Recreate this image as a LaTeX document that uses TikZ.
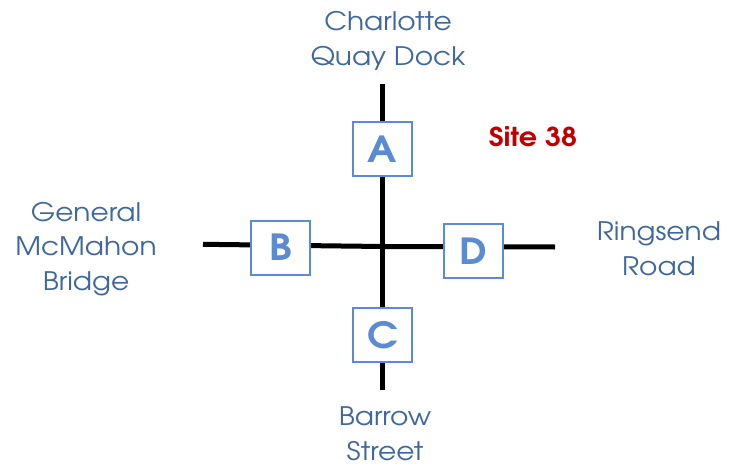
\documentclass[tikz,border=0pt]{standalone}
\usepackage{fontspec}
\setmainfont{texgyreadventor}[Extension=.otf, UprightFont=*-regular, BoldFont=*-bold, FakeStretch=1.1]
\usepackage{xcolor}
\usepackage{tikz}
\usetikzlibrary{positioning}
\definecolor{streetblue}{HTML}{3F679C}
\definecolor{boxblue}{HTML}{5B8BD1}
\definecolor{sitered}{HTML}{C00000}
\tikzset{
  roadline/.style={line width=5pt, black},
  sitebox/.style={draw=boxblue, line width=2pt, fill=white, minimum width=59pt, minimum height=54pt, inner sep=0pt, text=boxblue, font=\fontsize{36}{40}\selectfont\bfseries},
  streetlabel/.style={text=streetblue, align=center, anchor=base, inner sep=0pt, font=\fontsize{25.5}{34.5}\selectfont},
}

\begin{document}
\begin{tikzpicture}[x=1pt, y=-1pt]
  \useasboundingbox (0,0) rectangle (729,471);
  % road ends
  \coordinate (cross) at (382,246.5);
  \coordinate (nend) at (382,84);
  \coordinate (send) at (382,390);
  \coordinate (wend) at (203,244.3);
  \coordinate (eend) at (555,247);
  \draw[roadline] (nend) -- (send);
  \draw[roadline] (wend) -- (cross) -- (eend);

  % monitoring points
  \node[sitebox] (ptA) at (382.5,149) {A};
  \node[sitebox] (ptB) at (280.5,247.5) {B};
  \node[sitebox] (ptC) at (382.5,335) {C};
  \node[sitebox] (ptD) at (473.5,251) {D};

  % street names (anchored on last baseline)
  \node[streetlabel] (north) at (388,65) {Charlotte\\Quay Dock};
  \node[streetlabel] (west) at (86,290) {General\\McMahon\\Bridge};
  \node[streetlabel] (east) at (659,275) {Ringsend\\Road};
  \node[streetlabel] (south) at (385,460) {Barrow\\Street};
  \node[anchor=base, inner sep=0pt, text=sitered, font=\fontsize{26}{30}\selectfont\bfseries] (site) at (533,146.7) {Site 38};
\end{tikzpicture}
\end{document}
